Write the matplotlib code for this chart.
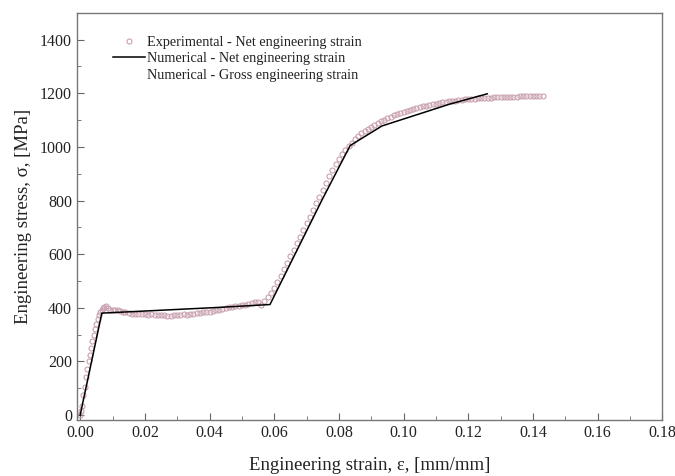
import numpy as np
import matplotlib
matplotlib.use('Agg')
import matplotlib.pyplot as plt
from matplotlib.lines import Line2D

plt.rcParams['font.family'] = ['Liberation Serif', 'DejaVu Serif']

# experimental - net engineering strain
exp_strain = [0.0000, 0.0003, 0.0006, 0.0010, 0.0014, 0.0018, 0.0022, 0.0026, 0.0030, 0.0034,
              0.0038, 0.0042, 0.0046, 0.0050, 0.0054, 0.0058, 0.0062, 0.0066, 0.0070, 0.0075,
              0.0080, 0.0086, 0.0092, 0.0100, 0.0108, 0.0116, 0.0124, 0.0132, 0.0140, 0.0150,
              0.0160, 0.0170, 0.0180, 0.0190, 0.0200, 0.0210, 0.0220, 0.0230, 0.0240, 0.0250,
              0.0260, 0.0270, 0.0280, 0.0290, 0.0300, 0.0310, 0.0320, 0.0330, 0.0340, 0.0350,
              0.0360, 0.0370, 0.0380, 0.0390, 0.0400, 0.0410, 0.0420, 0.0430, 0.0440, 0.0450,
              0.0460, 0.0470, 0.0480, 0.0490, 0.0500, 0.0510, 0.0520, 0.0530, 0.0540, 0.0550,
              0.0560, 0.0570, 0.0580, 0.0590, 0.0600, 0.0610, 0.0620, 0.0630, 0.0640, 0.0650,
              0.0660, 0.0670, 0.0680, 0.0690, 0.0700, 0.0710, 0.0720, 0.0730, 0.0740, 0.0750,
              0.0760, 0.0770, 0.0780, 0.0790, 0.0800, 0.0810, 0.0820, 0.0830, 0.0840, 0.0850,
              0.0860, 0.0870, 0.0880, 0.0890, 0.0900, 0.0910, 0.0920, 0.0930, 0.0940, 0.0950,
              0.0960, 0.0970, 0.0980, 0.0990, 0.1000, 0.1010, 0.1020, 0.1030, 0.1040, 0.1050,
              0.1060, 0.1070, 0.1080, 0.1090, 0.1100, 0.1110, 0.1120, 0.1130, 0.1140, 0.1150,
              0.1160, 0.1170, 0.1180, 0.1190, 0.1200, 0.1210, 0.1220, 0.1230, 0.1240, 0.1250,
              0.1260, 0.1270, 0.1280, 0.1290, 0.1300, 0.1310, 0.1320, 0.1330, 0.1340, 0.1350,
              0.1360, 0.1370, 0.1380, 0.1390, 0.1400, 0.1410, 0.1420, 0.1430]
exp_stress = [0, 15, 35, 75, 105, 140, 170, 200, 225, 250,
              275, 300, 322, 340, 358, 372, 383, 392, 399, 404,
              406, 398, 393, 392, 393, 391, 388, 385, 383, 380,
              378, 377, 376, 375, 376, 374, 375, 373, 374, 372,
              373, 371, 370, 374, 372, 373, 375, 374, 376, 378,
              379, 381, 383, 384, 386, 388, 391, 393, 396, 399,
              401, 403, 405, 407, 410, 411, 414, 418, 420, 422,
              410, 425, 440, 455, 472, 495, 520, 545, 568, 592,
              615, 640, 665, 690, 715, 740, 765, 790, 815, 840,
              865, 890, 912, 935, 955, 972, 988, 1002, 1015, 1028,
              1040, 1050, 1060, 1068, 1076, 1083, 1090, 1096, 1102, 1108,
              1113, 1118, 1122, 1127, 1131, 1135, 1139, 1142, 1145, 1148,
              1151, 1154, 1156, 1159, 1161, 1163, 1166, 1168, 1170, 1172,
              1173, 1175, 1176, 1177, 1178, 1179, 1180, 1181, 1182, 1183,
              1184, 1184, 1185, 1186, 1186, 1187, 1187, 1188, 1188, 1188,
              1189, 1189, 1189, 1190, 1190, 1190, 1191, 1190]

# numerical - net engineering strain
num_strain = [0.0, 0.0067, 0.0423, 0.0587, 0.0747, 0.0835, 0.0933, 0.1144, 0.1259]
num_stress = [0, 380, 401, 412, 800, 1005, 1078, 1160, 1198]

fig = plt.figure(figsize=(6.75, 4.76), dpi=100)
ax = fig.add_axes([0.114, 0.118, 0.867, 0.855])

ax.plot(exp_strain, exp_stress, linestyle='none', marker='o', markersize=3.6,
        markerfacecolor='none', markeredgecolor='#c9a0b0', markeredgewidth=0.8,
        label='Experimental - Net engineering strain')
ax.plot(num_strain, num_stress, color='black', linewidth=1.1,
        label='Numerical - Net engineering strain')

ax.set_xlim(-0.001, 0.18)
ax.set_ylim(-18, 1500)
ax.set_xticks(np.arange(0, 0.181, 0.02))
ax.set_xticks(np.arange(0, 0.181, 0.01), minor=True)
ax.set_yticks(np.arange(0, 1401, 200))
ax.set_yticks(np.arange(0, 1401, 100), minor=True)
ax.set_xticklabels(['%.2f' % v for v in np.arange(0, 0.181, 0.02)])
ax.tick_params(direction='in', which='both', labelsize=11.5, colors='#222222',
               top=False, right=False)
ax.tick_params(which='major', length=5, color='#666666')
ax.tick_params(which='minor', length=3, color='#666666')
for s in ax.spines.values():
    s.set_color('#777777')
    s.set_linewidth(1.0)

ax.set_xlabel('Engineering strain, ε, [mm/mm]', fontsize=13.5, color='#222222', labelpad=12)
ax.set_ylabel('Engineering stress, σ, [MPa]', fontsize=13.5, color='#222222', labelpad=6)

handles, labels = ax.get_legend_handles_labels()
handles.append(Line2D([], [], color='white', linewidth=1.1))
labels.append('Numerical - Gross engineering strain')
ax.legend(handles, labels, loc='upper left', bbox_to_anchor=(0.052, 0.958),
          frameon=False, fontsize=10.3, handlelength=2.2, handletextpad=0.15,
          labelspacing=0.25, borderaxespad=0, labelcolor='#222222')

fig.savefig('out.png', dpi=100)
